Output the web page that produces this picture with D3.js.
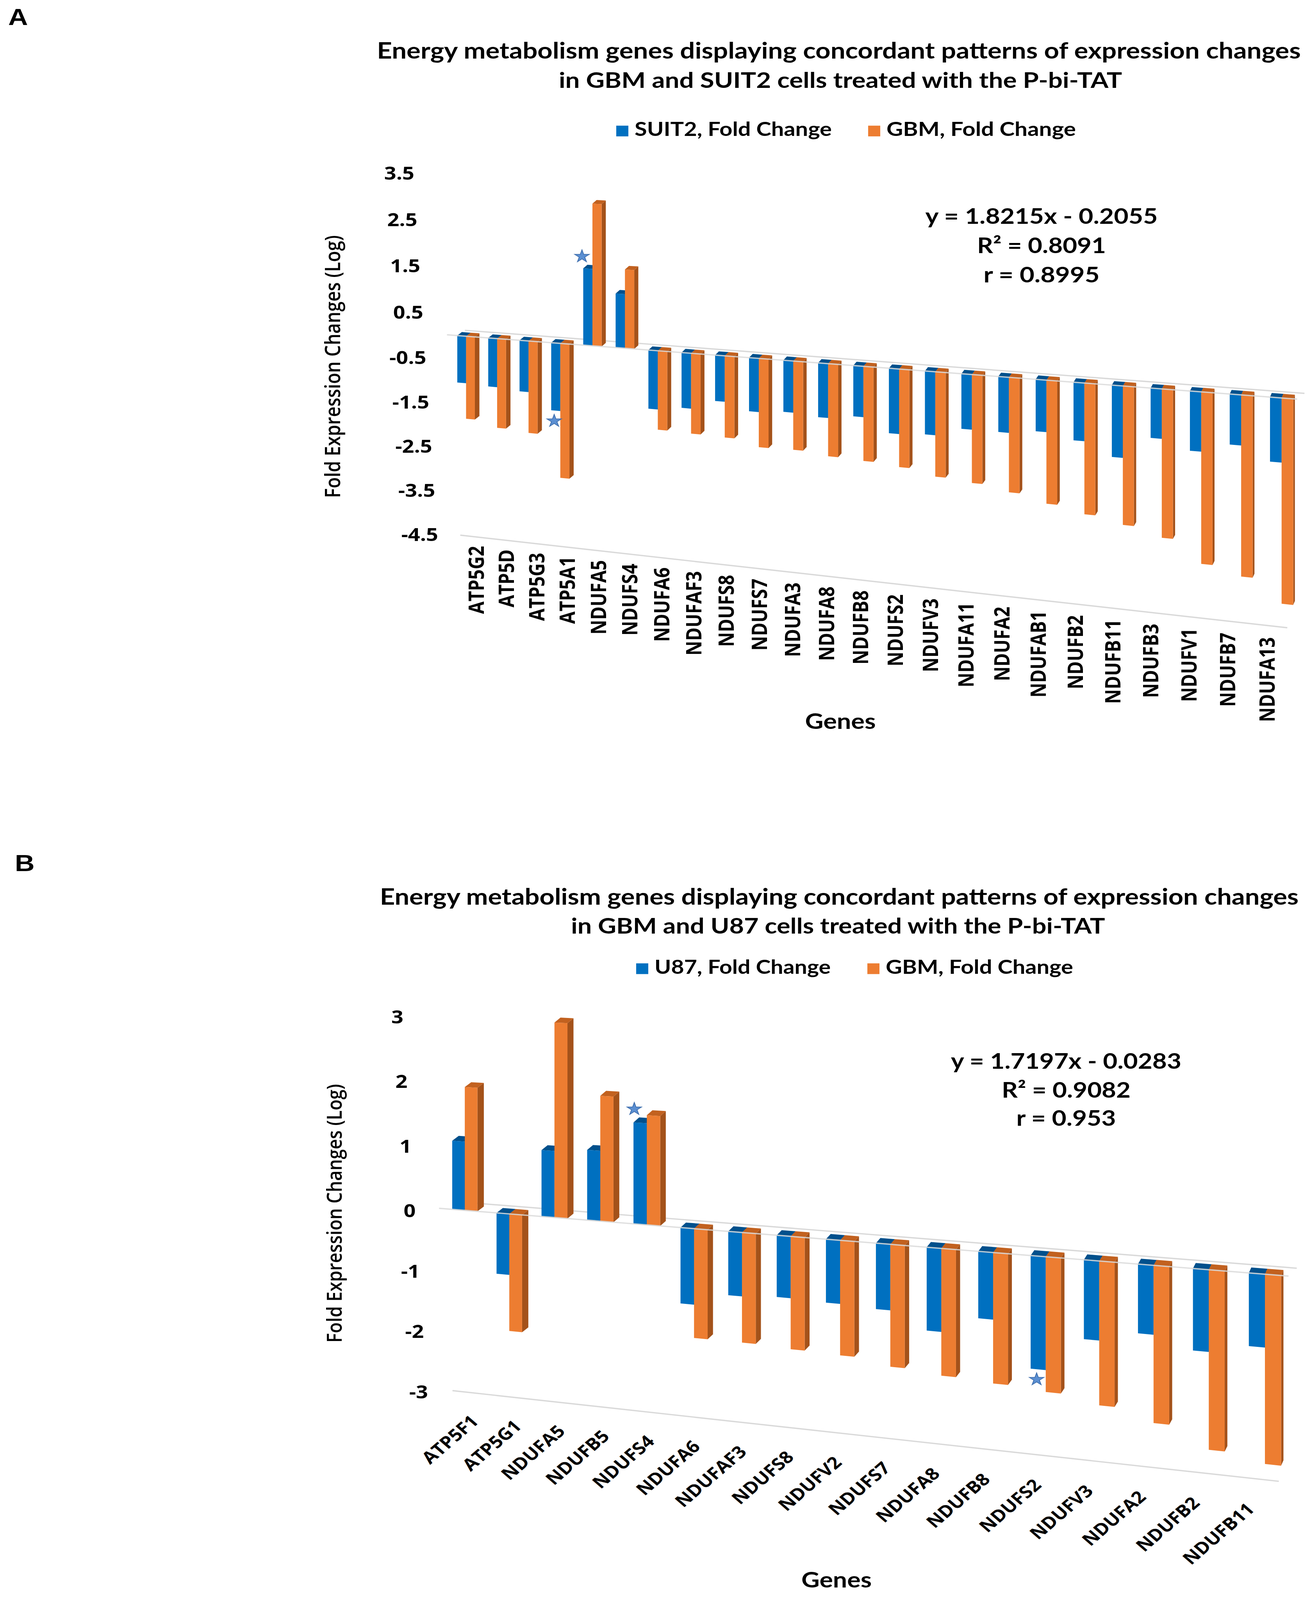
<!DOCTYPE html>
<html>
<head>
<meta charset="utf-8">
<script src="https://cdn.jsdelivr.net/npm/d3@7"></script>
<style>
    body { margin: 0; background: #fff; overflow: hidden; }
    svg { display: block; }
</style>
</head>
<body>
<svg id="svg"></svg>
<script>
// ---- panel A data (log fold change)
const genesA = ['ATP5G2', 'ATP5D', 'ATP5G3', 'ATP5A1', 'NDUFA5', 'NDUFS4', 'NDUFA6', 'NDUFAF3',
    'NDUFS8', 'NDUFS7', 'NDUFA3', 'NDUFA8', 'NDUFB8', 'NDUFS2', 'NDUFV3', 'NDUFA11', 'NDUFA2',
    'NDUFAB1', 'NDUFB2', 'NDUFB11', 'NDUFB3', 'NDUFV1', 'NDUFB7', 'NDUFA13']
const suit2FC = [-1.06, -1.09, -1.14, -1.50, 1.60, 1.12, -1.28, -1.20, -0.99, -1.15, -1.10, -1.15,
    -1.07, -1.36, -1.32, -1.14, -1.14, -1.06, -1.18, -1.45, -1.00, -1.19, -1.00, -1.27]
const gbmFC_A = [-1.86, -2.00, -2.05, -2.98, 2.96, 1.63, -1.72, -1.74, -1.76, -1.90, -1.89, -1.96,
    -1.99, -2.05, -2.18, -2.24, -2.36, -2.52, -2.66, -2.80, -2.98, -3.42, -3.59, -4.04]
const ticksA = [3.5, 2.5, 1.5, 0.5, -0.5, -1.5, -2.5, -3.5, -4.5]
const starsA = [['NDUFA5', 0], ['ATP5A1', 0]]
const legendA = ['SUIT2, Fold Change', 'GBM, Fold Change']
const titleA = ['Energy metabolism genes displaying concordant patterns of expression changes',
    'in GBM and SUIT2 cells treated with the P-bi-TAT']
const eqA = ['y = 1.8215x - 0.2055', 'R² = 0.8091', 'r = 0.8995']

// ---- panel B data
const genesB = ['ATP5F1', 'ATP5G1', 'NDUFA5', 'NDUFB5', 'NDUFS4', 'NDUFA6', 'NDUFAF3', 'NDUFS8',
    'NDUFV2', 'NDUFS7', 'NDUFA8', 'NDUFB8', 'NDUFS2', 'NDUFV3', 'NDUFA2', 'NDUFB2', 'NDUFB11']
const u87FC = [1.06, -1.00, 1.01, 1.06, 1.52, -1.21, -1.01, -0.97, -0.99, -1.02, -1.28, -1.02,
    -1.71, -1.19, -1.03, -1.21, -1.07]
const gbmFC_B = [1.90, -1.92, 2.96, 1.89, 1.64, -1.74, -1.74, -1.77, -1.79, -1.89, -1.95, -1.99,
    -2.04, -2.16, -2.34, -2.65, -2.77]
const ticksB = [3, 2, 1, 0, -1, -2, -3]
const starsB = [['NDUFS4', 0], ['NDUFS2', 0]]
const legendB = ['U87, Fold Change', 'GBM, Fold Change']
const titleB = ['Energy metabolism genes displaying concordant patterns of expression changes',
    'in GBM and U87 cells treated with the P-bi-TAT']
const eqB = ['y = 1.7197x - 0.0283', 'R² = 0.9082', 'r = 0.953']

const yTitle = 'Fold Expression Changes (Log)'

const front = ['#0070c0', '#ed7d31']
const topFace = ['#00508c', '#c2611f']
const sideFace = ['#004a80', '#a4521a']
const gridColor = '#d9d9d9'
const headFont = "Lato, 'Open Sans', sans-serif"
const axisFont = "'Open Sans', 'DejaVu Sans', sans-serif"

// the figure is laid out on a 3357 x 4775 canvas and stretched to fit the window
const VW = 3357, VH = 4775
const svg = d3.select('#svg')
    .attr('viewBox', `0 0 ${VW} ${VH}`)
    .attr('preserveAspectRatio', 'none')
    .attr('width', VW)
    .attr('height', Math.min(VH, window.innerHeight || VH))

function fitText(sel, width) {
    sel.each(function () {
        const w = this.getComputedTextLength()
        const fs = parseFloat(this.getAttribute('font-size'))
        if (w > 0) this.setAttribute('font-size', fs * width / w)
    })
}

function drawPanel(cfg) {
    const g = svg.append('g')
    const N = cfg.genes.length
    const band = d3.scaleBand().domain(cfg.genes).range([0, 1]).paddingInner(0.43).paddingOuter(0.215)
    const bw = band.bandwidth()
    // perspective: the left end of the chart recedes
    const proj = t => cfg.x0 + cfg.span * (1 - cfg.k) * t / (1 - cfg.k * t)
    const depth = t => 1 / (1 - cfg.k * t)
    const zeroY = x => cfg.zeroAt[1] + cfg.zeroSlope * (x - cfg.zeroAt[0])
    const dv = d3.scaleLinear().domain([cfg.min, 0, cfg.max])
        .range([-cfg.min * cfg.negUnit, 0, -cfg.max * cfg.posUnit])
    const yAt = (v, t) => zeroY(proj(t)) + dv(v) * depth(t)
    const pitch = t => cfg.span * (1 - cfg.k) / N * depth(t) ** 2
    const dxy = t => [pitch(t) * (0.15 - 0.11 * t), -0.08 * cfg.negUnit * depth(t)]
    const line = d3.line()

    // back zero line
    g.append('path')
        .attr('d', line([0.01, 1].map(t => [proj(t) + 1.5 * dxy(t)[0], yAt(0, t) + 1.5 * dxy(t)[1]])))
        .attr('stroke', gridColor).attr('stroke-width', 4).attr('fill', 'none')
    // floor line at axis minimum
    g.append('path')
        .attr('d', line([0.013, 0.985].map(t => [proj(t), yAt(cfg.min, t)])))
        .attr('stroke', gridColor).attr('stroke-width', 4).attr('fill', 'none')

    const bars = cfg.genes.flatMap((gene, i) => cfg.series.map((s, j) => {
        const ta = band(gene) + j * bw / 2
        const tb = ta + bw / 2
        const v = s[i]
        const xa = proj(ta), xb = proj(tb)
        const ya0 = yAt(0, ta), yb0 = yAt(0, tb), yav = yAt(v, ta), ybv = yAt(v, tb)
        const [dx, dy] = dxy(tb)
        const top = v >= 0
            ? [[xa, yav], [xb, ybv], [xb + dx, ybv + dy], [xa + dx, yav + dy]]
            : [[xa, ya0], [xb, yb0], [xb + dx, yb0 + dy], [xa + dx, ya0 + dy]]
        const y1 = Math.min(yb0, ybv), y2 = Math.max(yb0, ybv)
        return {
            gene, j, v, xa, xb, dx, dy, ya0, yav,
            front: [[xa, ya0], [xb, yb0], [xb, ybv], [xa, yav]],
            top,
            side: [[xb, y1], [xb, y2], [xb + dx, y2 + dy], [xb + dx, y1 + dy]]
        }
    }))

    const bg = g.selectAll('g.bar').data(bars).enter().append('g').attr('class', 'bar')
    bg.append('polygon').attr('points', d => d.side.join(' ')).attr('fill', d => sideFace[d.j])
    bg.append('polygon').attr('points', d => d.top.join(' ')).attr('fill', d => topFace[d.j])
    bg.append('polygon').attr('points', d => d.front.join(' ')).attr('fill', d => front[d.j])

    // front zero line, drawn over the bars
    g.append('path')
        .attr('d', line([-0.005, 0.995].map(t => [proj(t), yAt(0, t)])))
        .attr('stroke', gridColor).attr('stroke-width', 4).attr('fill', 'none').attr('opacity', 0.85)

    // stars
    const star = d3.symbol().type(d3.symbolStar).size(430)
    g.selectAll('path.star').data(cfg.stars).enter().append('path')
        .attr('class', 'star')
        .attr('d', star)
        .attr('fill', '#5b8fd2').attr('stroke', '#3f6fae').attr('stroke-width', 2)
        .attr('transform', ([gene, j]) => {
            const b = bars.find(d => d.gene === gene && d.j === j)
            const cx = (b.xa + b.xb) / 2
            return b.v >= 0
                ? `translate(${cx - 15},${b.yav + b.dy - 25})`
                : `translate(${cx - 4},${b.yav + 32})`
        })

    // y tick labels
    const ly = d3.scaleLinear().domain([cfg.min, 0, cfg.max]).range(cfg.tickY)
    const lx = d3.scaleLinear().domain([cfg.min, cfg.max]).range(cfg.tickX)
    g.selectAll('text.tick').data(cfg.ticks).enter().append('text')
        .attr('class', 'tick')
        .attr('x', d => lx(d)).attr('y', d => ly(d))
        .attr('text-anchor', 'end').attr('dominant-baseline', 'central')
        .attr('font-family', axisFont).attr('font-weight', 'bold').attr('font-size', 54)
        .text(d => d)

    // category labels
    g.selectAll('text.cat').data(cfg.genes).enter().append('text')
        .attr('class', 'cat')
        .attr('transform', d => {
            const t = band(d) + bw / 2
            const x = proj(t) + cfg.labelDx(t)
            return `translate(${x},${yAt(cfg.min, t) + cfg.labelDy}) rotate(${cfg.labelRotate})`
        })
        .attr('text-anchor', 'end')
        .attr('font-family', axisFont).attr('font-weight', 'bold').attr('font-size', cfg.labelSize)
        .text(d => d)

    // axis titles
    g.append('text')
        .attr('transform', `translate(${cfg.yTitlePos}) rotate(-90)`)
        .attr('text-anchor', 'middle').attr('dominant-baseline', 'central')
        .attr('font-family', axisFont).attr('font-weight', 600).attr('font-size', 48)
        .text(yTitle)
        .call(fitText, cfg.yTitleWidth)
    g.append('text')
        .attr('x', cfg.genesPos[0]).attr('y', cfg.genesPos[1])
        .attr('text-anchor', 'middle')
        .attr('font-family', headFont).attr('font-weight', 'bold').attr('font-size', 56)
        .text('Genes')
        .call(fitText, cfg.genesWidth)

    // panel letter
    g.append('text')
        .attr('x', cfg.letterPos[0]).attr('y', cfg.letterPos[1])
        .attr('font-family', "'Liberation Sans', Arial, sans-serif").attr('font-weight', 'bold')
        .attr('font-size', 70)
        .text(cfg.letter)

    // title
    g.selectAll('text.title').data(cfg.title).enter().append('text')
        .attr('class', 'title')
        .attr('x', (d, i) => cfg.titleX[i]).attr('y', (d, i) => cfg.titleY[i])
        .attr('text-anchor', 'middle')
        .attr('font-family', headFont).attr('font-weight', 'bold').attr('font-size', 60)
        .text(d => d)
        .each(function (d, i) { d3.select(this).call(fitText, cfg.titleW[i]) })

    // legend
    g.selectAll('rect.key').data(cfg.legend).enter().append('rect')
        .attr('class', 'key')
        .attr('x', (d, i) => cfg.keyX[i]).attr('y', cfg.keyY)
        .attr('width', 31).attr('height', 32)
        .attr('fill', (d, i) => front[i])
    g.selectAll('text.key').data(cfg.legend).enter().append('text')
        .attr('class', 'key')
        .attr('x', (d, i) => cfg.keyX[i] + 47).attr('y', cfg.keyY + 31)
        .attr('font-family', headFont).attr('font-weight', 'bold').attr('font-size', 46)
        .text(d => d)
        .each(function (d, i) { d3.select(this).call(fitText, cfg.keyW[i]) })

    // regression text
    g.selectAll('text.eq').data(cfg.eq).enter().append('text')
        .attr('class', 'eq')
        .attr('x', cfg.eqX).attr('y', (d, i) => cfg.eqY[i])
        .attr('text-anchor', 'middle')
        .attr('font-family', headFont).attr('font-weight', 'bold').attr('font-size', 58)
        .text(d => d)
        .each(function (d, i) { d3.select(this).call(fitText, cfg.eqW[i]) })
}

drawPanel({
    letter: 'A', letterPos: [21, 75],
    genes: genesA, series: [suit2FC, gbmFC_A], stars: starsA, ticks: ticksA,
    legend: legendA, title: titleA, eq: eqA,
    x0: 1154, span: 2180, k: 0.1343,
    zeroAt: [1143, 999], zeroSlope: 0.0882,
    negUnit: 132, posUnit: 139.7, min: -4.5, max: 3.5,
    tickY: [1594, 1000, 515], tickX: [1122, 1061],
    labelRotate: -90, labelSize: 54, labelDy: 30,
    labelDx: t => 47 - 66 * t,
    yTitlePos: [850, 1094], yTitleWidth: 784,
    genesPos: [2152, 2175], genesWidth: 181,
    titleX: [2148, 2152], titleY: [175, 262], titleW: [2365, 1442],
    keyX: [1578, 2223], keyY: 375, keyW: [505, 485],
    eqX: 2667, eqY: [668, 756, 843], eqW: [595, 330, 297]
})

drawPanel({
    letter: 'B', letterPos: [38, 2600],
    genes: genesB, series: [u87FC, gbmFC_B], stars: starsB, ticks: ticksB,
    legend: legendB, title: titleB, eq: eqB,
    x0: 1133.8, span: 2178, k: 0.1234,
    zeroAt: [1124, 3606], zeroSlope: 0.093,
    negUnit: 180, posUnit: 193, min: -3, max: 3,
    tickY: [4152, 3612, 3033], tickX: [1096, 1033],
    labelRotate: -45, labelSize: 50, labelDy: 91,
    labelDx: t => 40 - 66 * t,
    yTitlePos: [855, 3621], yTitleWidth: 772,
    genesPos: [2142, 4738], genesWidth: 180,
    titleX: [2149, 2146], titleY: [2700, 2786], titleW: [2352, 1367],
    keyX: [1629, 2221], keyY: 2875, keyW: [451, 480],
    eqX: 2730, eqY: [3190, 3276, 3360], eqW: [590, 330, 255]
})
</script>
</body>
</html>
